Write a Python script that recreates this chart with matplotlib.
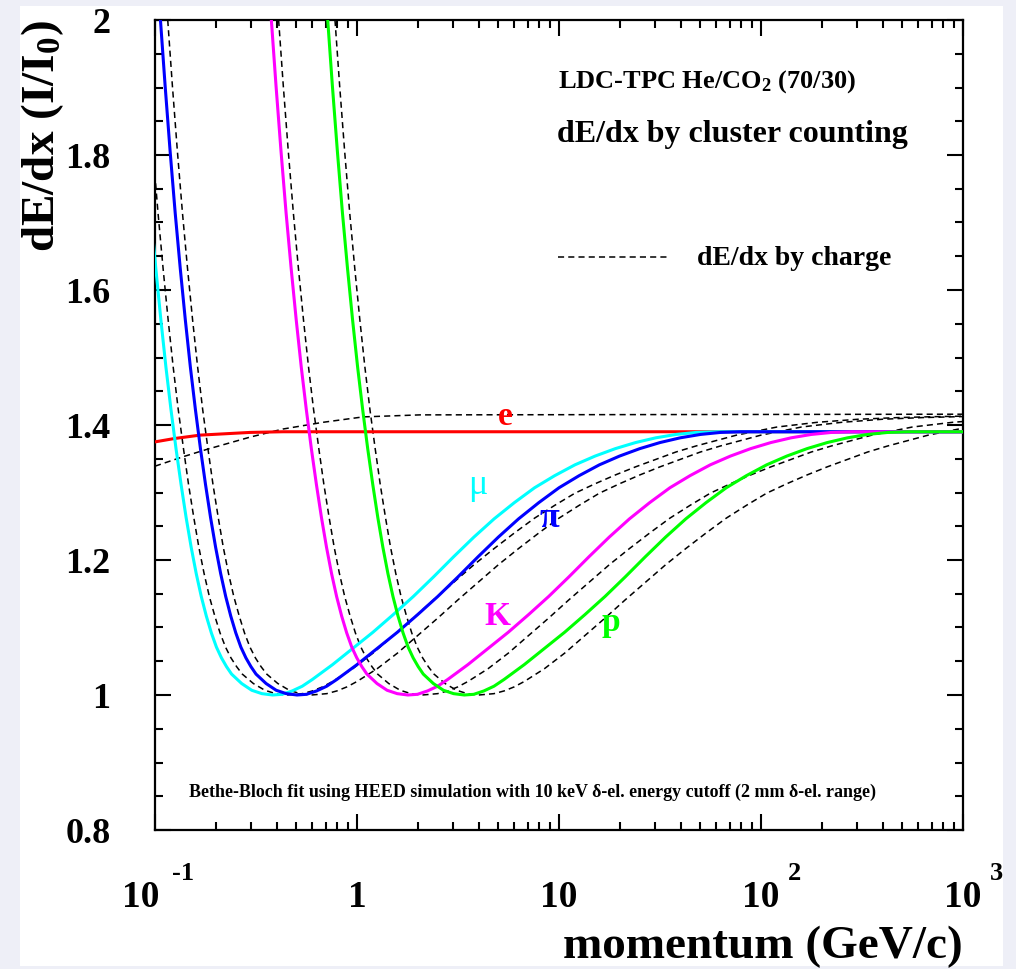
import matplotlib
matplotlib.use("Agg")
import numpy as np
import matplotlib.pyplot as plt
from matplotlib.patches import Rectangle
from matplotlib.ticker import MultipleLocator, LogLocator, NullFormatter, FuncFormatter

plt.rcParams['font.family'] = ['Liberation Serif', 'DejaVu Serif']
plt.rcParams['font.weight'] = 'bold'
plt.rcParams['mathtext.fontset'] = 'custom'
plt.rcParams['mathtext.rm'] = 'Liberation Serif:bold'
plt.rcParams['mathtext.default'] = 'rm'

# momenta are stored as log10(p / GeV/c)

# ---- dE/dx by cluster counting (solid lines) ----
clu_y = [2.000, 1.903, 1.805, 1.714, 1.632, 1.556, 1.486, 1.423, 1.365, 1.312,
         1.263, 1.219, 1.180, 1.146, 1.117, 1.092, 1.071, 1.055, 1.042, 1.031,
         1.017, 1.007, 1.002, 1.000, 1.001, 1.006, 1.013, 1.023, 1.034, 1.045,
         1.069, 1.093, 1.119, 1.146, 1.175, 1.205, 1.234, 1.261, 1.285, 1.307,
         1.325, 1.341, 1.354, 1.365, 1.374, 1.381, 1.386, 1.389, 1.390, 1.390]

clu_pi_lgp = [-0.973, -0.950, -0.925, -0.900, -0.875, -0.850, -0.825, -0.800, -0.775, -0.750,
              -0.725, -0.700, -0.675, -0.650, -0.625, -0.600, -0.575, -0.550, -0.525, -0.500,
              -0.450, -0.400, -0.350, -0.297, -0.250, -0.200, -0.150, -0.100, -0.050, 0.000,
              0.100, 0.200, 0.300, 0.400, 0.500, 0.600, 0.700, 0.800, 0.900, 1.000,
              1.100, 1.200, 1.300, 1.400, 1.500, 1.600, 1.700, 1.800, 1.900, 3.200]
clu_mu_lgp = [-1.094, -1.071, -1.046, -1.021, -0.996, -0.971, -0.946, -0.921, -0.896, -0.871,
              -0.846, -0.821, -0.796, -0.771, -0.746, -0.721, -0.696, -0.671, -0.646, -0.621,
              -0.571, -0.521, -0.471, -0.418, -0.371, -0.321, -0.271, -0.221, -0.171, -0.121,
              -0.021, 0.079, 0.179, 0.279, 0.379, 0.479, 0.579, 0.679, 0.779, 0.879,
              0.979, 1.079, 1.179, 1.279, 1.379, 1.479, 1.579, 1.679, 1.779, 3.079]
clu_k_lgp = [-0.424, -0.401, -0.376, -0.351, -0.326, -0.301, -0.276, -0.251, -0.226, -0.201,
             -0.176, -0.151, -0.126, -0.101, -0.076, -0.051, -0.026, -0.001, 0.024, 0.049,
             0.099, 0.149, 0.199, 0.252, 0.299, 0.349, 0.399, 0.449, 0.499, 0.549,
             0.649, 0.749, 0.849, 0.949, 1.049, 1.149, 1.249, 1.349, 1.449, 1.549,
             1.649, 1.749, 1.849, 1.949, 2.049, 2.149, 2.249, 2.349, 2.449, 3.749]
clu_pr_lgp = [-0.145, -0.122, -0.097, -0.072, -0.047, -0.022, 0.003, 0.028, 0.053, 0.078,
              0.103, 0.128, 0.153, 0.178, 0.203, 0.228, 0.253, 0.278, 0.303, 0.328,
              0.378, 0.428, 0.478, 0.531, 0.578, 0.628, 0.678, 0.728, 0.778, 0.828,
              0.928, 1.028, 1.128, 1.228, 1.328, 1.428, 1.528, 1.628, 1.728, 1.828,
              1.928, 2.028, 2.128, 2.228, 2.328, 2.428, 2.528, 2.628, 2.728, 4.028]

clu_e_lgp = [-1.0, -0.903, -0.777, -0.530, -0.367, 3.0]
clu_e_y = [1.375, 1.380, 1.385, 1.389, 1.390, 1.390]

# ---- dE/dx by charge (dashed lines) ----
chg_y = [2.000, 1.903, 1.805, 1.714, 1.632, 1.556, 1.486, 1.423, 1.365, 1.312,
         1.263, 1.219, 1.180, 1.146, 1.117, 1.092, 1.071, 1.055, 1.042, 1.031,
         1.017, 1.007, 1.002, 1.000, 1.002, 1.006, 1.012, 1.020, 1.039, 1.062,
         1.088, 1.114, 1.141, 1.167, 1.193, 1.217, 1.240, 1.262, 1.281, 1.299,
         1.313, 1.326, 1.338, 1.349, 1.360, 1.369, 1.377, 1.385, 1.391, 1.397,
         1.404, 1.4085, 1.411, 1.4125, 1.4135]

chg_pi_lgp = [-0.937, -0.914, -0.889, -0.864, -0.839, -0.814, -0.789, -0.764, -0.738, -0.713,
              -0.687, -0.662, -0.636, -0.610, -0.583, -0.557, -0.530, -0.503, -0.475, -0.447,
              -0.392, -0.335, -0.282, -0.225, -0.150, -0.100, -0.050, 0.000, 0.100, 0.200,
              0.300, 0.400, 0.500, 0.600, 0.700, 0.800, 0.900, 1.000, 1.100, 1.200,
              1.300, 1.400, 1.500, 1.600, 1.700, 1.800, 1.900, 2.000, 2.100, 2.200,
              2.400, 2.600, 2.800, 3.000, 3.200]
chg_mu_lgp = [-1.058, -1.035, -1.010, -0.985, -0.960, -0.935, -0.910, -0.885, -0.859, -0.834,
              -0.808, -0.783, -0.757, -0.731, -0.704, -0.678, -0.651, -0.624, -0.596, -0.568,
              -0.513, -0.456, -0.403, -0.346, -0.271, -0.221, -0.171, -0.121, -0.021, 0.079,
              0.179, 0.279, 0.379, 0.479, 0.579, 0.679, 0.779, 0.879, 0.979, 1.079,
              1.179, 1.279, 1.379, 1.479, 1.579, 1.679, 1.779, 1.879, 1.979, 2.079,
              2.279, 2.479, 2.679, 2.879, 3.079]
chg_k_lgp = [-0.388, -0.365, -0.340, -0.315, -0.290, -0.265, -0.240, -0.215, -0.189, -0.164,
             -0.138, -0.113, -0.087, -0.061, -0.034, -0.008, 0.019, 0.046, 0.074, 0.102,
             0.157, 0.214, 0.267, 0.324, 0.399, 0.449, 0.499, 0.549, 0.649, 0.749,
             0.849, 0.949, 1.049, 1.149, 1.249, 1.349, 1.449, 1.549, 1.649, 1.749,
             1.849, 1.949, 2.049, 2.149, 2.249, 2.349, 2.449, 2.549, 2.649, 2.749,
             2.949, 3.149, 3.349, 3.549, 3.749]
chg_pr_lgp = [-0.109, -0.086, -0.061, -0.036, -0.011, 0.014, 0.039, 0.064, 0.090, 0.115,
              0.141, 0.166, 0.192, 0.218, 0.245, 0.271, 0.298, 0.325, 0.353, 0.381,
              0.436, 0.493, 0.546, 0.603, 0.678, 0.728, 0.778, 0.828, 0.928, 1.028,
              1.128, 1.228, 1.328, 1.428, 1.528, 1.628, 1.728, 1.828, 1.928, 2.028,
              2.128, 2.228, 2.328, 2.428, 2.528, 2.628, 2.728, 2.828, 2.928, 3.028,
              3.228, 3.428, 3.628, 3.828, 4.028]

chg_e_lgp = [-1.0, -0.861, -0.742, -0.530, -0.367, -0.168, 0.030, 0.312, 3.0]
chg_e_y = [1.339, 1.353, 1.364, 1.382, 1.394, 1.404, 1.412, 1.415, 1.416]

y_ticks = [0.8, 1.0, 1.2, 1.4, 1.6, 1.8, 2.0]
x_decades = [0.1, 1, 10, 100, 1000]
x_base = ['10', '1', '10', '10', '10']
x_exp = ['-1', '', '', '2', '3']

W, H = 1016, 969
fig = plt.figure(figsize=(W / 100, H / 100), dpi=100, facecolor='#eeeff7')
fig.add_artist(Rectangle((20 / W, 3 / H), 983 / W, 960 / H, transform=fig.transFigure,
                         facecolor='white', edgecolor='none', zorder=0))
ax = fig.add_axes([155 / W, 139 / H, 808 / W, 810 / H])
ax.set_xscale('log')
ax.set_xlim(0.1, 1000)
ax.set_ylim(0.8, 2.0)

dash = dict(color='black', lw=1.1, dashes=(4, 2.7))
for lgp, yy in [(chg_e_lgp, chg_e_y), (chg_mu_lgp, chg_y), (chg_pi_lgp, chg_y),
                (chg_k_lgp, chg_y), (chg_pr_lgp, chg_y)]:
    ax.plot(10 ** np.asarray(lgp), yy, zorder=2, **dash)

solid = [(clu_e_lgp, clu_e_y, '#ff0000'), (clu_mu_lgp, clu_y, '#00ffff'),
         (clu_pi_lgp, clu_y, '#0000ff'), (clu_k_lgp, clu_y, '#ff00ff'),
         (clu_pr_lgp, clu_y, '#00ff00')]
for lgp, yy, c in solid:
    ax.plot(10 ** np.asarray(lgp), yy, color=c, lw=2.2, zorder=3)

# particle labels
ax.text(5.4, 1.412, 'e', color='#ff0000', fontsize=24, ha='center', va='center', zorder=4)
ax.text(3.97, 1.310, 'μ', color='#00ffff', fontsize=26, fontweight='normal', ha='center', va='center')
ax.text(9.0, 1.261, 'π', color='#0000ff', fontsize=26, ha='center', va='center')
ax.text(4.93, 1.116, 'K', color='#ff00ff', fontsize=24, ha='center', va='center')
ax.text(18.1, 1.108, 'p', color='#00ff00', fontsize=24, ha='center', va='center')

# annotations
ax.text(0.4988, 0.916, 'LDC-TPC He/CO$_2$ (70/30)', transform=ax.transAxes, fontsize=19,
        va='baseline', ha='left')
ax.text(0.4975, 0.849, 'dE/dx by cluster counting', transform=ax.transAxes, fontsize=23,
        va='baseline', ha='left')
ax.plot([0.4988, 0.6349], [0.7074, 0.7074], transform=ax.transAxes, **dash)
ax.text(0.6708, 0.6975, 'dE/dx by charge', transform=ax.transAxes, fontsize=20,
        va='baseline', ha='left')
ax.text(0.4666, 0.0407, 'Bethe-Bloch fit using HEED simulation with 10 keV δ-el. energy cutoff '
        '(2 mm δ-el. range)', transform=ax.transAxes, fontsize=13, va='baseline', ha='center')

# axes styling
ax.set_yticks(y_ticks)
ax.yaxis.set_minor_locator(MultipleLocator(0.05))
ax.yaxis.set_major_formatter(FuncFormatter(lambda v, pos: '%g' % round(v, 2)))
ax.xaxis.set_major_locator(LogLocator(base=10))
ax.xaxis.set_minor_locator(LogLocator(base=10, subs=range(2, 10)))
ax.xaxis.set_major_formatter(NullFormatter())
ax.xaxis.set_minor_formatter(NullFormatter())
ax.tick_params(which='both', direction='in', top=True, right=True, width=1.5, color='black')
ax.tick_params(which='major', length=11.5)
ax.tick_params(which='minor', length=5.8)
ax.tick_params(axis='y', which='major', labelsize=26, pad=32)
for s in ax.spines.values():
    s.set_linewidth(1.6)

# x tick labels drawn as "10" plus a detached exponent
base_dx = [-10, 0, 0, 0, 0]
exp_dx = [12, 0, 0, 19, 19]
for xv, b, e, dx, ex in zip(x_decades, x_base, x_exp, base_dx, exp_dx):
    ax.annotate(b, xy=(xv, 0), xycoords=('data', 'axes fraction'), xytext=(dx, -55.5),
                textcoords='offset points', fontsize=27, ha='center', va='baseline',
                annotation_clip=False)
    if e:
        ax.annotate(e, xy=(xv, 0), xycoords=('data', 'axes fraction'), xytext=(ex, -36),
                    textcoords='offset points', fontsize=19, ha='left', va='baseline',
                    annotation_clip=False)

ax.text(1.0, -0.158, 'momentum (GeV/c)', transform=ax.transAxes, fontsize=34,
        ha='right', va='baseline')
ax.text(-0.1386, 1.0, 'dE/dx (I/I$_0$)', transform=ax.transAxes, fontsize=34,
        rotation=90, ha='center', va='top')

fig.savefig('out.png', dpi=100, facecolor=fig.get_facecolor())
